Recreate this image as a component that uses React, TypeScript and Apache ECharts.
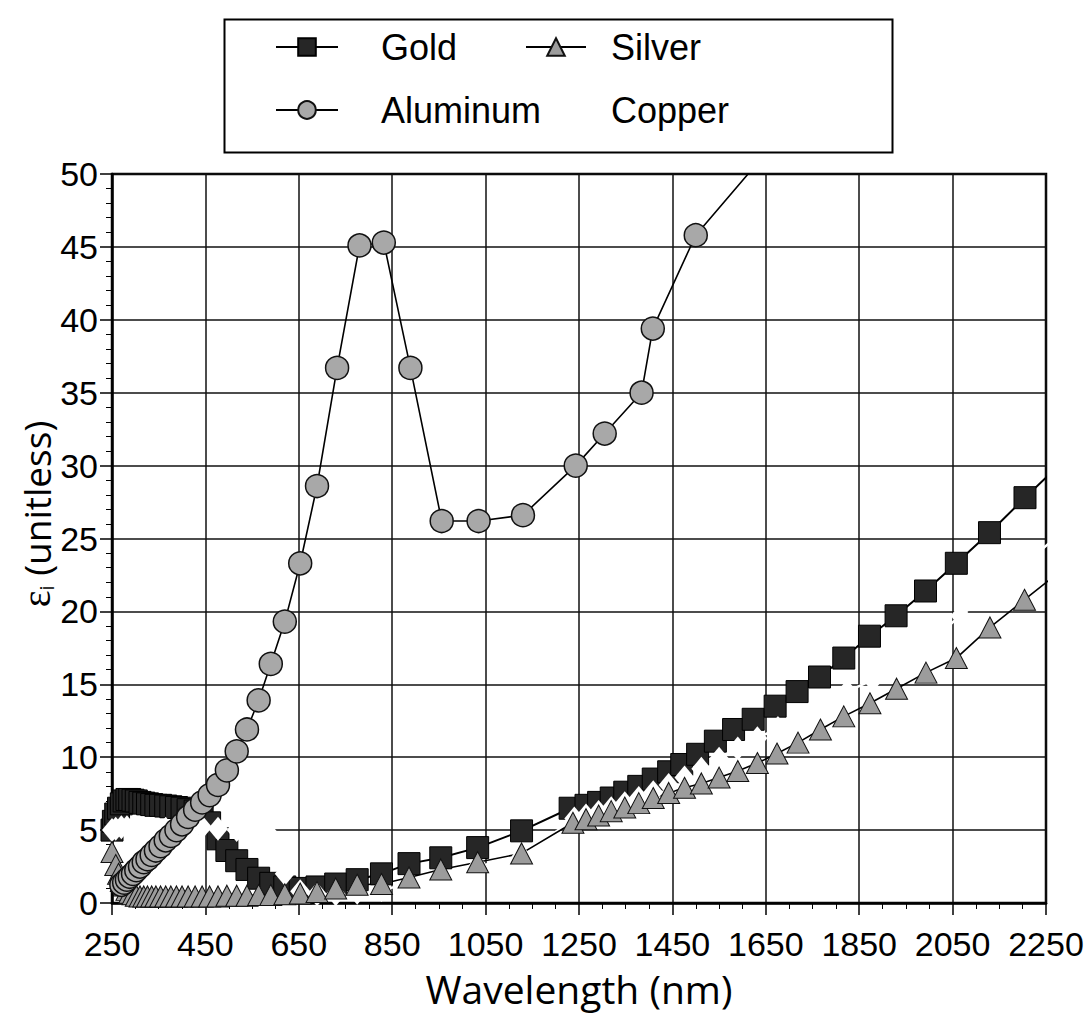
import React, { useEffect, useRef } from "react";
import * as echarts from "echarts";

// Imaginary part of the dielectric function of four metals, [wavelength nm, eps_i]
const goldData: number[][] = [
  [250, 5.0], [253, 5.6], [258, 6.1], [264, 6.5], [270, 6.8], [276, 7.0], [282, 7.1], [288, 7.1],
  [295, 7.05], [302, 7.0], [310, 6.9], [318, 6.85], [326, 6.8], [335, 6.75], [344, 6.7], [354, 6.7],
  [365, 6.65], [376, 6.6], [388, 6.55], [400, 6.5], [413, 6.4], [428, 6.3], [443, 6.1], [459, 5.5],
  [477, 4.4], [496, 3.6], [517, 2.9], [539, 2.3], [564, 1.7], [590, 1.35], [620, 1.1], [653, 1.0],
  [689, 1.1], [729, 1.3], [775, 1.6], [827, 2.0], [886, 2.7], [954, 3.1], [1033, 3.8], [1127, 4.95],
  [1231, 6.5], [1265, 6.7], [1292, 6.9], [1319, 7.2], [1348, 7.6], [1378, 8.0], [1409, 8.5],
  [1442, 9.0], [1470, 9.5], [1504, 10.2], [1542, 11.1], [1581, 11.9], [1623, 12.6], [1670, 13.5],
  [1717, 14.5], [1765, 15.5], [1817, 16.8], [1872, 18.3], [1929, 19.7], [1992, 21.4], [2058, 23.3],
  [2129, 25.4], [2205, 27.8], [2290, 30.4],
];

const silverData: number[][] = [
  [250, 3.5], [258, 2.6], [264, 2.0], [270, 1.5], [276, 1.2], [282, 0.9], [288, 0.7], [295, 0.6],
  [302, 0.5], [310, 0.45], [318, 0.45], [326, 0.45], [335, 0.45], [344, 0.45], [354, 0.45],
  [365, 0.45], [376, 0.45], [388, 0.45], [400, 0.45], [413, 0.45], [428, 0.45], [443, 0.45],
  [459, 0.45], [477, 0.45], [496, 0.5], [517, 0.5], [539, 0.5], [564, 0.55], [590, 0.55],
  [620, 0.6], [653, 0.65], [689, 0.75], [729, 1.0], [775, 1.25], [827, 1.3], [886, 1.75],
  [954, 2.3], [1033, 2.8], [1127, 3.4], [1237, 5.5], [1265, 5.75], [1292, 6.0], [1319, 6.3],
  [1348, 6.55], [1378, 6.85], [1409, 7.2], [1442, 7.55], [1476, 7.9], [1512, 8.2], [1550, 8.6],
  [1590, 9.05], [1632, 9.6], [1674, 10.25], [1719, 11.0], [1767, 11.9], [1817, 12.8], [1873, 13.7],
  [1930, 14.7], [1993, 15.8], [2058, 16.8], [2130, 18.9], [2204, 20.8], [2290, 23.0],
];

const aluminumData: number[][] = [
  [270, 1.25], [276, 1.4], [282, 1.6], [288, 1.8], [295, 2.0], [302, 2.25], [310, 2.5], [318, 2.8],
  [326, 3.0], [335, 3.3], [344, 3.6], [354, 3.9], [365, 4.3], [376, 4.6], [388, 5.0], [400, 5.4],
  [413, 5.9], [428, 6.4], [443, 6.9], [459, 7.4], [477, 8.1], [496, 9.1], [517, 10.4], [539, 11.9],
  [564, 13.9], [590, 16.4], [620, 19.3], [653, 23.3], [689, 28.6], [732, 36.7], [780, 45.1],
  [832, 45.3], [889, 36.7], [956, 26.2], [1035, 26.2], [1130, 26.6], [1243, 30.0], [1305, 32.2],
  [1384, 35.0], [1408, 39.4], [1500, 45.8], [1660, 51.8],
];

const copperData: number[][] = [
  [250, 5.0], [258, 5.1], [270, 5.2], [282, 5.2], [295, 5.1], [310, 5.0], [326, 5.0], [344, 5.0],
  [365, 5.1], [388, 5.2], [413, 5.2], [443, 5.2], [477, 5.1], [517, 5.0], [564, 5.0], [590, 4.6],
  [620, 2.0], [653, 0.8], [689, 0.6], [729, 0.6], [775, 0.7], [827, 0.9], [886, 1.3], [954, 1.9],
  [1033, 2.5], [1127, 3.2], [1240, 5.8], [1265, 6.0], [1292, 6.25], [1319, 6.5], [1348, 6.85],
  [1378, 7.2], [1409, 7.6], [1442, 8.1], [1476, 8.6], [1512, 9.2], [1550, 9.9], [1590, 10.6],
  [1632, 11.3], [1676, 12.0], [1722, 12.8], [1771, 13.6], [1824, 14.5], [1879, 15.3], [1938, 16.5],
  [2000, 17.9], [2067, 19.7], [2138, 21.5], [2214, 23.5], [2290, 25.6],
];

const legendLeftColumn = ["Gold", "Aluminum"];
const legendRightColumn = ["Silver", "Copper"];

const xMin = 250;
const xMax = 2250;
const xStep = 200;
const yMin = 0;
const yMax = 50;
const yStep = 5;

const xTitle = "Wavelength (nm)";

const LABEL_FONT = "'Liberation Sans', Arial, Helvetica, sans-serif";
const TITLE_FONT = "'Open Sans', 'Noto Sans', sans-serif";

export default function App() {
  const ref = useRef<HTMLDivElement>(null);

  useEffect(() => {
    if (!ref.current) return;
    const chart = echarts.init(ref.current, undefined, { renderer: "svg" });

    const legendText = {
      fontFamily: LABEL_FONT,
      fontSize: 36,
      color: "#000",
      lineHeight: 40,
    };

    chart.setOption({
      animation: false,
      backgroundColor: "#fff",
      grid: {
        left: 112,
        top: 174,
        width: 934,
        height: 729,
        show: true,
        borderColor: "#000",
        borderWidth: 2.5,
        backgroundColor: "transparent",
      },
      legend: [
        {
          data: legendLeftColumn,
          orient: "vertical",
          left: 275,
          top: 27,
          padding: 0,
          itemWidth: 62,
          itemHeight: 22,
          itemGap: 23,
          selectedMode: false,
          textStyle: { ...legendText, padding: [0, 0, 0, 38] },
        },
        {
          data: legendRightColumn.map((name) =>
            name === "Copper"
              ? { name, itemStyle: { opacity: 0 }, lineStyle: { opacity: 0 } }
              : name
          ),
          orient: "vertical",
          left: 525,
          top: 27,
          padding: 0,
          itemWidth: 60,
          itemHeight: 22,
          itemGap: 23,
          selectedMode: false,
          textStyle: { ...legendText, padding: [0, 0, 0, 20] },
        },
      ],
      xAxis: {
        type: "value",
        min: xMin,
        max: xMax,
        interval: xStep,
        axisLine: { show: true, onZero: false, lineStyle: { color: "#000", width: 2.5 } },
        axisTick: { show: true, length: 12, lineStyle: { color: "#000", width: 1.5 } },
        minorTick: { show: true, splitNumber: 4, length: 6, lineStyle: { color: "#000", width: 1 } },
        splitLine: { show: true, lineStyle: { color: "#111", width: 1.5 } },
        axisLabel: {
          margin: 24,
          fontFamily: LABEL_FONT,
          fontSize: 34,
          color: "#000",
          showMinLabel: true,
          showMaxLabel: true,
          formatter: (v: number) => String(v),
        },
        name: xTitle,
        nameLocation: "middle",
        nameGap: 66,
        nameTextStyle: { fontFamily: TITLE_FONT, fontSize: 39, color: "#000" },
      },
      yAxis: {
        type: "value",
        min: yMin,
        max: yMax,
        interval: yStep,
        axisLine: { show: true, onZero: false, lineStyle: { color: "#000", width: 2.5 } },
        axisTick: { show: true, length: 12, lineStyle: { color: "#000", width: 1.5 } },
        minorTick: { show: true, splitNumber: 5, length: 6, lineStyle: { color: "#000", width: 1 } },
        splitLine: { show: true, lineStyle: { color: "#111", width: 1.5 } },
        axisLabel: {
          margin: 14,
          fontFamily: LABEL_FONT,
          fontSize: 34,
          color: "#000",
          formatter: (v: number) => String(v),
        },
      },
      graphic: [
        {
          type: "rect",
          left: 222,
          top: 17,
          shape: { width: 668, height: 133 },
          style: { fill: "none", stroke: "#000", lineWidth: 2 },
          z: 10,
        },
        {
          type: "text",
          x: 36,
          y: 514,
          rotation: Math.PI / 2,
          style: {
            text: "{e|ε}{s|i} (unitless)",
            align: "center",
            verticalAlign: "middle",
            fill: "#000",
            font: `37px ${TITLE_FONT}`,
            rich: {
              e: { fontFamily: "'Liberation Serif', 'DejaVu Serif', serif", fontSize: 40, fill: "#000" },
              s: {
                fontFamily: TITLE_FONT,
                fontSize: 20,
                fill: "#000",
                verticalAlign: "bottom",
                padding: [18, 0, 0, 0],
              },
            },
          },
          z: 10,
        },
      ],
      series: [
        {
          name: "Gold",
          type: "line",
          data: goldData,
          symbol: "rect",
          symbolSize: 22,
          clip: true,
          itemStyle: { color: "#262626", borderColor: "#000", borderWidth: 1 },
          lineStyle: { color: "#000", width: 2 },
        },
        {
          name: "Copper",
          type: "line",
          data: copperData,
          symbol: "diamond",
          symbolSize: [20, 24],
          clip: true,
          itemStyle: { color: "#fff", borderWidth: 0 },
          lineStyle: { color: "#fff", width: 2.5 },
        },
        {
          name: "Silver",
          type: "line",
          data: silverData,
          symbol: "triangle",
          symbolSize: [22, 21],
          clip: true,
          itemStyle: { color: "#9c9c9c", borderColor: "#111", borderWidth: 1 },
          lineStyle: { color: "#000", width: 1.6 },
        },
        {
          name: "Aluminum",
          type: "line",
          data: aluminumData,
          symbol: "circle",
          symbolSize: 23,
          clip: true,
          itemStyle: { color: "#a8a8a8", borderColor: "#111", borderWidth: 1.5 },
          lineStyle: { color: "#000", width: 1.6 },
        },
      ],
    });

    return () => chart.dispose();
  }, []);

  return (
    <div
      ref={ref}
      style={{ position: "fixed", left: 0, top: 0, width: 1091, height: 1021, background: "#fff" }}
    />
  );
}
